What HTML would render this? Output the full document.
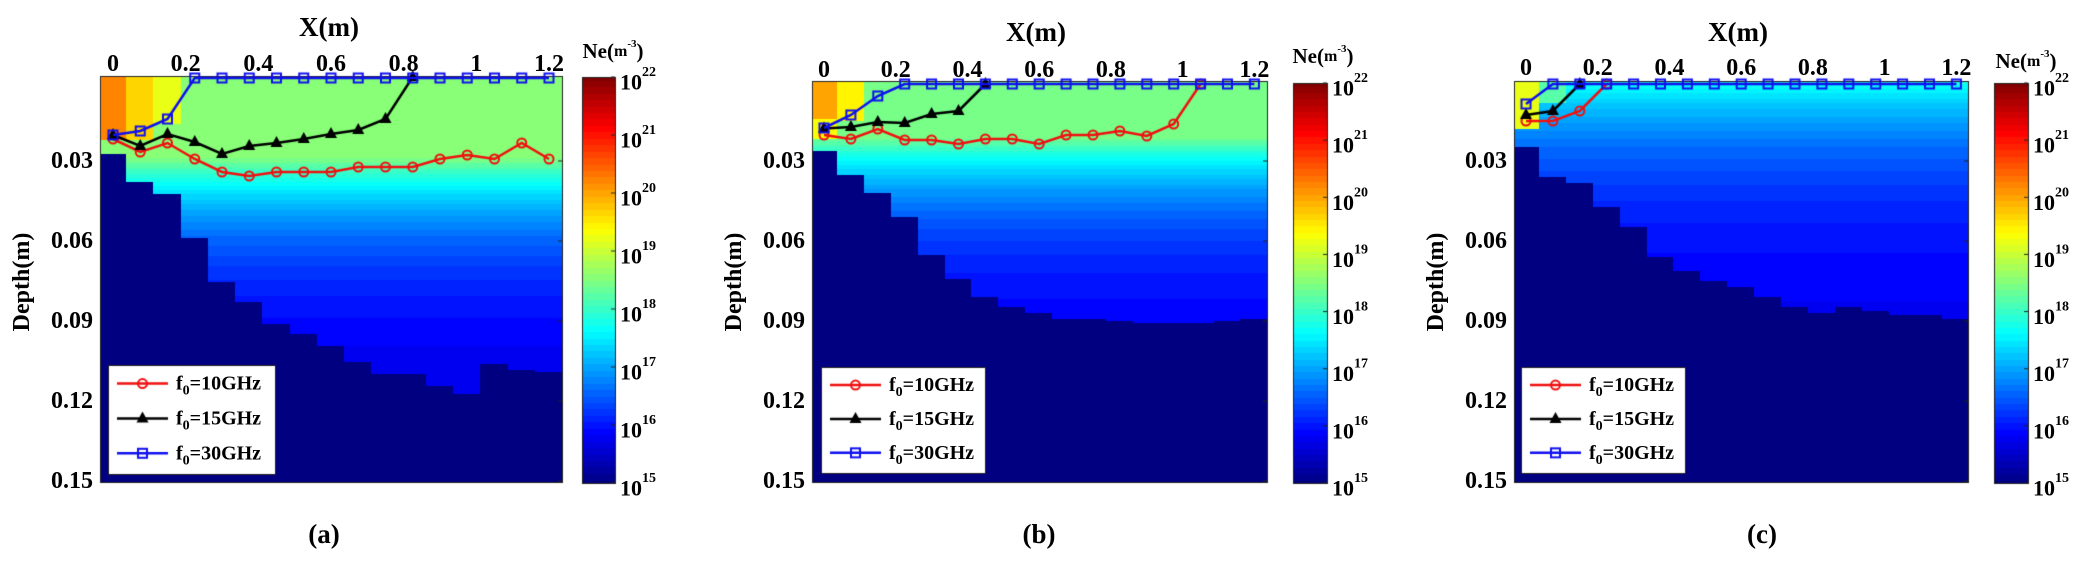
<!DOCTYPE html>
<html><head><meta charset="utf-8">
<style>
html,body{margin:0;padding:0;background:#fff;}
#wrap{position:relative;width:2073px;height:561px;overflow:hidden;}
canvas,svg{position:absolute;left:0;top:0;}
text{font-family:"Liberation Serif",serif;font-weight:bold;fill:#000;}
</style></head>
<body><div id="wrap">
<canvas id="c" width="2073" height="561"></canvas>
<svg id="s" width="2073" height="561" xmlns="http://www.w3.org/2000/svg"></svg>
</div>
<script>
const cv=document.getElementById('c'),ctx=cv.getContext('2d');
const svg=document.getElementById('s');
function jet(v){let t=(v-15)/7;t=Math.max(0,Math.min(1,t));t=Math.round(t*63)/63;
 const cl=x=>Math.max(0,Math.min(1,x));
 return `rgb(${Math.round(255*cl(1.5-Math.abs(4*t-3)))},${Math.round(255*cl(1.5-Math.abs(4*t-2)))},${Math.round(255*cl(1.5-Math.abs(4*t-1)))})`;}
const P=[
 {L:100,R:562,T:76,B:482,x0:113,dx:27.25,cb:[582,615,77,483],
  cut:[.027,.038,.042,.059,.075,.083,.091,.095,.099,.105,.110,.110,.114,.117,.106,.108,.109],
  val:(k,d)=>{ if(k==0&&d<.022) return 20.2; if(k==1&&d<.022) return 19.7; if(k==2&&d<.016) return 19.2;
    if(d<.028) return 18.6; return 15.6+3.0*Math.exp(-(d-.028)/.028);},
  blue:[135,131,119,78,78,78,78,78,78,78,78,78,78,78,78,78,78],
  black:[135,146,134,142,154,146,143,139,134,130,119,77],
  red:[139,152,143,159,172,176,172,172,172,167,167,167,159,155,159,143,159],
  leg:[108,365,275,474], title:[329,27], lab:[324,534,'(a)'], ylab:22, ne:[613,51], xt:64},
 {L:812,R:1267,T:81,B:482,x0:824,dx:26.9,cb:[1293,1327,83,483],
  cut:[.026,.035,.042,.051,.065,.074,.081,.085,.087,.089,.089,.090,.091,.091,.091,.090,.089],
  val:(k,d)=>{ if(k==0&&d<.014) return 20.0; if(k==0&&d<.022) return 19.3; if(k==1&&d<.015) return 19.4;
    if(d<.021) return 18.45; return 15.7+2.75*Math.exp(-(d-.021)/.025);},
  blue:[128,115,96,84,84,84,84,84,84,84,84,84,84,84,84,84,84],
  black:[128.5,127,122,123,114,111,84],
  red:[135,139,129,140,140,144,139,139,144,135,135,131,136,124,84],
  leg:[821,367,985,473], title:[1036,32], lab:[1039,534,'(b)'], ylab:734, ne:[1323,56], xt:70},
 {L:1514,R:1968,T:81,B:482,x0:1526,dx:26.9,cb:[1994,2028,83,483],
  cut:[.025,.036,.038,.047,.055,.066,.071,.075,.077,.081,.085,.087,.085,.086,.088,.088,.089],
  val:(k,d)=>{ if(k==0&&d<.018) return 19.2; if(k==1&&d<.008) return 18.2;
    return 15.7+2.1*Math.exp(-d/.03);},
  blue:[104,84,84,84,84,84,84,84,84,84,84,84,84,84,84,84,84],
  black:[115,111,84],
  red:[121,121,111,84],
  leg:[1521,367,1685,473], title:[1738,32], lab:[1762,534,'(c)'], ylab:1436, ne:[2026,61], xt:68}
];
function T(x,y,str,size,anchor,extra){const t=document.createElementNS('http://www.w3.org/2000/svg','text');
 t.setAttribute('x',x);t.setAttribute('y',y);t.setAttribute('font-size',size);t.setAttribute('text-anchor',anchor||'middle');
 t.setAttribute('dominant-baseline','central');if(extra)for(const a in extra)t.setAttribute(a,extra[a]);t.innerHTML=str;svg.appendChild(t);return t;}
const Y=d=>81+2667*d;
P.forEach(p=>{
 for(let k=0;k<17;k++){
  let xa=Math.max(p.L,p.x0+(k-0.5)*p.dx), xb=Math.min(p.R,p.x0+(k+0.5)*p.dx);
  for(let y=p.T;y<p.B;y+=2){const d=(y+1-81)/2667;const D=p.cut[k];
   const v=d>=D?15:p.val(k,Math.max(0,d));ctx.fillStyle=jet(v);ctx.fillRect(Math.floor(xa),y,Math.ceil(xb-xa)+1,2);}
 }
 ctx.strokeStyle='#222';ctx.lineWidth=1;ctx.strokeRect(p.L+.5,p.T+.5,p.R-p.L,p.B-p.T);
 const [c0,c1,ct,cbm]=p.cb;
 for(let y=ct;y<cbm;y++){ctx.fillStyle=jet(22-(y-ct)/(cbm-ct)*7);ctx.fillRect(c0,y,c1-c0,1);}
 ctx.strokeRect(c0+.5,ct+.5,c1-c0,cbm-ct);
 for(let i=0;i<8;i++){const y=ct+(cbm-ct)*i/7;T(c1+5,y+5,'10<tspan dy="-10" font-size="14">'+(22-i)+'</tspan>',22,'start');
   ctx.beginPath();ctx.moveTo(c1-4,y);ctx.lineTo(c1,y);ctx.stroke();}
 T(p.ne[0],p.ne[1],'Ne(<tspan font-size="16">m</tspan><tspan dy="-7" font-size="11">-3</tspan><tspan dy="7">)</tspan>',21);
 const xs=m=>p.x0+m/0.075*p.dx;
 [0,.2,.4,.6,.8,1,1.2].forEach(m=>{T(xs(m),p.xt,String(m),24);});
 [.03,.06,.09,.12,.15].forEach(d=>{T(p.L-7,Y(d),d.toFixed(2),24,'end');
   ctx.beginPath();ctx.moveTo(p.R-4,Y(d));ctx.lineTo(p.R,Y(d));ctx.stroke();});
 T(p.title[0],p.title[1],'X(m)',27);
 T(p.lab[0],p.lab[1],p.lab[2],27);
 T(p.ylab,282,'Depth(m)',24,'middle',{transform:`rotate(-90 ${p.ylab} 282)`});
 function series(arr,col,mk){ctx.strokeStyle=col;ctx.lineWidth=2.5;ctx.beginPath();
  arr.forEach((y,k)=>{const x=p.x0+k*p.dx;k?ctx.lineTo(x,y):ctx.moveTo(x,y);});ctx.stroke();
  arr.forEach((y,k)=>marker(p.x0+k*p.dx,y,col,mk));}
 series(p.red,'#f01010','o');series(p.black,'#000','^');series(p.blue,'#1010ee','s');
 const [lx0,ly0,lx1,ly1]=p.leg;
 ctx.fillStyle='#fff';ctx.fillRect(lx0,ly0,lx1-lx0,ly1-ly0);ctx.strokeStyle='#222';ctx.lineWidth=1;ctx.strokeRect(lx0+.5,ly0+.5,lx1-lx0,ly1-ly0);
 const items=[['#f01010','o','10'],['#000','^','15'],['#1010ee','s','30']];
 items.forEach((it,i)=>{const y=ly0+(ly1-ly0)*(0.17+0.32*i);const a=lx0+9,b=lx0+60;
  ctx.strokeStyle=it[0];ctx.lineWidth=2.5;ctx.beginPath();ctx.moveTo(a,y);ctx.lineTo(b,y);ctx.stroke();marker((a+b)/2,y,it[0],it[1]);
  T(b+8,y,'f<tspan dy="7" font-size="14">0</tspan><tspan dy="-7">='+it[2]+'GHz</tspan>',20,'start');});
 ctx.strokeStyle='#222';
});
function marker(x,y,col,mk){ctx.lineWidth=2;ctx.strokeStyle=col;ctx.fillStyle=col;
 if(mk=='o'){ctx.beginPath();ctx.arc(x,y,4.5,0,7);ctx.stroke();}
 else if(mk=='^'){ctx.beginPath();ctx.moveTo(x,y-7);ctx.lineTo(x+6,y+4);ctx.lineTo(x-6,y+4);ctx.closePath();ctx.fill();}
 else{ctx.strokeRect(x-4.5,y-4.5,9,9);}}
</script>
</body></html>
